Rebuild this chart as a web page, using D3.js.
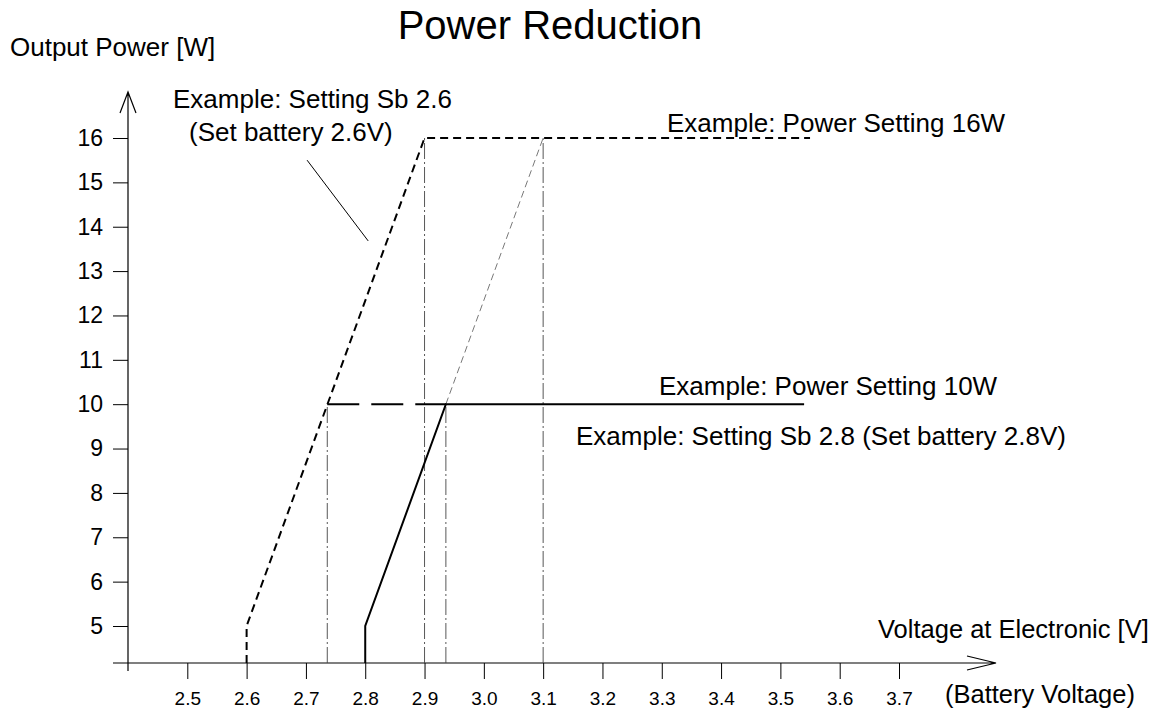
<!DOCTYPE html>
<html>
<head>
<meta charset="utf-8">
<script src="https://cdn.jsdelivr.net/npm/d3@7"></script>
<style>
  body { margin: 0; background: #fff; }
  svg { display: block; font-family: Arial, 'Liberation Sans', sans-serif; }
  .ann { fill: #000; }
  .tick text { fill: #000; }
</style>
</head>
<body>
<main></main>
<script>
// tick labels
const xTicks = [2.5, 2.6, 2.7, 2.8, 2.9, 3.0, 3.1, 3.2, 3.3, 3.4, 3.5, 3.6, 3.7];
const yTicks = [5, 6, 7, 8, 9, 10, 11, 12, 13, 14, 15, 16];

// Sb 2.6 / 16W curve (battery V, power W)
const sb26Volts = [2.6, 2.6, 2.9, 3.55];
const sb26Power = [4.17, 5, 16, 16];

// Sb 2.8 / 10W curve
const sb28Volts = [2.8, 2.8, 2.936, 3.54];
const sb28Power = [4.17, 5, 10, 10];

// 10W limit on the Sb 2.6 curve (long dashes)
const limit10Volts = [2.736, 2.936];
const limit10Power = [10, 10];

// Sb 2.8 slope continued up to 16W (thin dashes)
const ext28Volts = [2.936, 3.1];
const ext28Power = [10, 16];

// guide lines down to the axis
const guideVolts = [2.736, 2.9, 2.936, 3.1];
const guidePower = [10, 16, 10, 16];

// leader from the Sb 2.6 label to the curve
const leaderVolts = [2.702, 2.805];
const leaderPower = [15.5, 13.68];

const width = 1157;
const height = 711;
const axisY = 663;

const svg = d3
  .select('main')
  .append('svg')
  .attr('width', width)
  .attr('height', height);

const xScale = d3.scaleLinear().domain([2.4, 3.7]).range([128, 899]);
const yScale = d3.scaleLinear().domain([5, 16]).range([626, 138]);

const zip = (xs, ys) => xs.map((v, i) => [v, ys[i]]);

const line = d3
  .line()
  .x(d => xScale(d[0]))
  .y(d => (d[1] < 5 ? axisY : yScale(d[1])));

// y axis
const yAxis = svg
  .append('g')
  .attr('transform', `translate(${xScale(2.4)}, 0)`)
  .call(d3.axisLeft(yScale).tickValues(yTicks).tickSize(15).tickPadding(10));
yAxis.select('.domain').remove();
yAxis.selectAll('.tick line').attr('stroke', '#000');
yAxis.selectAll('.tick text').attr('font-size', 23).attr('font-family', 'Arial, Liberation Sans, sans-serif');

// x axis
const xAxis = svg
  .append('g')
  .attr('transform', `translate(0, ${axisY})`)
  .call(
    d3
      .axisBottom(xScale)
      .tickValues(xTicks)
      .tickSize(16)
      .tickPadding(13)
      .tickFormat(d3.format('.1f'))
  );
xAxis.select('.domain').remove();
xAxis.selectAll('.tick line').attr('stroke', '#000');
xAxis.selectAll('.tick text').attr('font-size', 19).attr('font-family', 'Arial, Liberation Sans, sans-serif');

// axis lines with open arrow heads
const x0 = xScale(2.4);
svg
  .append('path')
  .attr('fill', 'none')
  .attr('stroke', '#000')
  .attr('stroke-width', 1.2)
  .attr('d', `M${x0},671 V92 M${x0 - 8},113 L${x0},92 L${x0 + 8},113`);

svg
  .append('path')
  .attr('fill', 'none')
  .attr('stroke', '#000')
  .attr('stroke-width', 1.2)
  .attr('d', `M113,${axisY} H996 M967,${axisY - 7} L996,${axisY} L967,${axisY + 7}`);

// dash-dot guides
guideVolts.forEach((v, i) => {
  svg
    .append('path')
    .attr('fill', 'none')
    .attr('stroke', '#444')
    .attr('stroke-width', 0.9)
    .attr('stroke-dasharray', '16,3,2,3')
    .attr('d', line([[v, 4.17], [v, guidePower[i]]]));
});

// thin dashed extension
svg
  .append('path')
  .attr('fill', 'none')
  .attr('stroke', '#555')
  .attr('stroke-width', 0.8)
  .attr('stroke-dasharray', '7,4')
  .attr('d', line(zip(ext28Volts, ext28Power)));

// Sb 2.6 curve
svg
  .append('path')
  .attr('fill', 'none')
  .attr('stroke', '#000')
  .attr('stroke-width', 2)
  .attr('stroke-dasharray', '8,5')
  .attr('d', line(zip(sb26Volts, sb26Power)));

// 10W long dashes
svg
  .append('path')
  .attr('fill', 'none')
  .attr('stroke', '#000')
  .attr('stroke-width', 2)
  .attr('stroke-dasharray', '32,12')
  .attr('d', line(zip(limit10Volts, limit10Power)));

// Sb 2.8 curve
svg
  .append('path')
  .attr('fill', 'none')
  .attr('stroke', '#000')
  .attr('stroke-width', 2)
  .attr('d', line(zip(sb28Volts, sb28Power)));

// leader line
svg
  .append('path')
  .attr('fill', 'none')
  .attr('stroke', '#000')
  .attr('stroke-width', 1)
  .attr('d', line(zip(leaderVolts, leaderPower)));

// texts
svg
  .append('text')
  .attr('x', 550)
  .attr('y', 39)
  .attr('text-anchor', 'middle')
  .attr('font-size', 40)
  .text('Power Reduction');

svg
  .append('text')
  .attr('x', 10)
  .attr('y', 56)
  .attr('font-size', 26)
  .text('Output Power [W]');

const labels = [
  { x: 173, y: 108, s: 26, t: 'Example: Setting Sb 2.6' },
  { x: 189, y: 141, s: 26, t: '(Set battery 2.6V)' },
  { x: 667, y: 132, s: 26, t: 'Example: Power Setting 16W' },
  { x: 659, y: 395, s: 26, t: 'Example: Power Setting 10W' },
  { x: 576, y: 445, s: 26, t: 'Example: Setting Sb 2.8 (Set battery 2.8V)' },
  { x: 878, y: 638, s: 25.5, t: 'Voltage at Electronic [V]' },
  { x: 945, y: 703, s: 25.5, t: '(Battery Voltage)' }
];

svg
  .selectAll('.ann')
  .data(labels)
  .enter()
  .append('text')
  .attr('class', 'ann')
  .attr('x', d => d.x)
  .attr('y', d => d.y)
  .attr('font-size', d => d.s)
  .text(d => d.t);
</script>
</body>
</html>
